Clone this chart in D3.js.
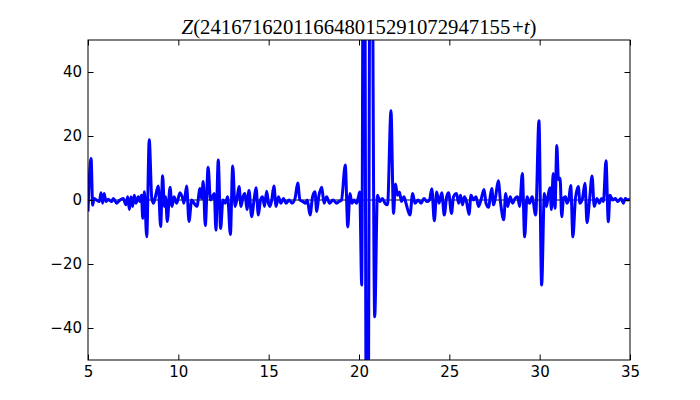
<!DOCTYPE html>
<html><head><meta charset="utf-8">
<script src="https://cdn.jsdelivr.net/npm/d3@7"></script>
<style>body{margin:0;background:#fff}</style>
</head><body>
<svg id="c" width="700" height="400"></svg>
<script>
const titleFunc = "Z";
const titleNumber = "241671620116648015291072947155";
const titleVar = "t";
const xDomain = [5, 35];
const yDomain = [-50, 50];
const xTicks = [5, 10, 15, 20, 25, 30, 35];
const yTicks = [-40, -20, 0, 20, 40];

const tValues = [
 5.00,5.17,5.26,5.33,5.47,5.63,5.72,5.81,5.89,6.00,6.12,6.31,6.40,6.59,6.77,6.95,
 7.10,7.20,7.29,7.38,7.47,7.56,7.66,7.78,7.88,7.96,8.03,8.12,8.25,8.39,8.53,8.63,
 8.71,8.89,9.02,9.13,9.23,9.29,9.39,9.54,9.65,9.76,9.91,10.09,10.24,10.31,10.46,10.59,
 10.74,10.87,11.03,11.20,11.28,11.38,11.49,11.65,11.78,11.89,11.99,12.08,12.21,12.34,12.47,12.60,
 12.73,12.88,13.01,13.14,13.25,13.36,13.47,13.58,13.69,13.80,13.91,14.06,14.19,14.30,14.43,14.55,
 14.66,14.77,14.89,14.99,15.07,15.17,15.29,15.41,15.54,15.68,15.82,15.96,16.13,16.29,16.46,16.61,
 16.73,16.90,17.04,17.14,17.29,17.43,17.56,17.66,17.77,17.94,18.06,18.21,18.37,18.56,18.77,18.89,
 19.03,19.24,19.38,19.50,19.61,19.72,19.86,19.97,20.04,20.15,20.27,20.45,20.66,20.87,21.02,21.16,
 21.30,21.44,21.58,21.77,21.91,22.02,22.13,22.24,22.35,22.49,22.60,22.82,22.97,23.10,23.27,23.43,
 23.60,23.76,23.90,24.03,24.17,24.30,24.43,24.58,24.72,24.85,24.96,25.12,25.23,25.40,25.51,25.62,
 25.73,25.84,25.95,26.09,26.20,26.34,26.48,26.61,26.75,26.92,27.03,27.18,27.25,27.35,27.45,27.56,
 27.71,27.84,28.01,28.12,28.23,28.37,28.50,28.64,28.78,28.89,29.04,29.17,29.30,29.44,29.58,29.78,
 29.96,30.11,30.26,30.38,30.46,30.57,30.65,30.75,30.85,30.95,31.04,31.13,31.22,31.32,31.43,31.51,
 31.62,31.72,31.84,31.98,32.14,32.23,32.37,32.51,32.62,32.76,32.90,33.02,33.17,33.30,33.43,33.53,
 33.67,33.80,33.89,34.04,34.19,34.32,34.50,34.63,34.74,34.87,35.00
];
const zValues = [
 -3.6,13.0,-1.6,0.5,0,-0.5,2.3,-1,2,-0.5,0.2,-0.5,0.5,-1,0,0.5,
 -1.5,1,-3,1,-2,1.5,-1,1,-0.5,1.5,-5.7,2.6,-11.5,18.8,0.5,-1,
 0.5,4.4,-8.3,7.6,-2,1,-6.7,4,-2,1,-1,2.3,0.5,-1,4.4,-6.7,
 0,-1,-2,3.6,0.5,5.8,-8,10.2,0,1,2,-9.4,12.5,-8.9,0,-1,
 1,-10.8,10.6,-2,0.5,4.2,-2,1,2,-3,3,-5.2,0,3.8,-4.7,0,
 1,-2,2.7,-1,-2,0,4.4,-2,1,-1,0.5,-1,0,-1,0.5,5.3,
 0,-0.5,-1,0,-4.7,1,2.6,-3.6,1,4,-1,1,-1,0,-1,-0.5,
 0,10.9,-8.4,2,-1,0,-1,1,2.5,-26.6,150,-150,150,-36.5,1.5,-0.5,
 0.5,-1,-1.5,27.9,-4.2,5,1.5,2.5,-0.5,1,-1,-4.7,2,-1,0,-1,
 0.5,-0.5,0,3.5,-6.5,2.5,-1,2.3,-4.7,1,2.3,-4.2,1,2,-1,1.5,
 -1.5,1,-0.5,-4.5,1.5,0,1,-2,0,3.3,-1,-2.3,0.5,3.6,-1.5,1,
 6,-1,-6.2,2,-2,1,-1,0.5,1,-2,8.3,-11.5,1,-1,1,-4.7,
 24.8,-26.6,2,-2,1,3.8,-3,8.3,-2.6,17,6.3,6.8,-5.2,0.5,1,-1,
 0.5,4.5,-11.5,0.5,4.2,-1,0.5,5.2,-7.1,0,7.5,-2,0.5,-1,0.5,-0.5,
 12.3,-6.8,1.5,0,0.5,-0.5,0.5,-1,0.5,0,0.3
];

const W = 700, H = 400;
const m = {left: 88, right: 70, top: 40, bottom: 40};
const svg = d3.select("#c");
const x = d3.scaleLinear().domain(xDomain).range([m.left, W - m.right]);
const y = d3.scaleLinear().domain(yDomain).range([H - m.bottom, m.top]);

svg.append("defs").append("clipPath").attr("id", "clip")
  .append("rect").attr("x", m.left).attr("y", m.top)
  .attr("width", W - m.left - m.right).attr("height", H - m.top - m.bottom);

const data = tValues.map((t, i) => ({t, z: zValues[i]}));

// zero line
svg.append("line").attr("x1", x(xDomain[0])).attr("x2", x(xDomain[1]))
  .attr("y1", y(0)).attr("y2", y(0)).attr("stroke", "#000").attr("stroke-width", 1);

svg.append("path").datum(data)
  .attr("clip-path", "url(#clip)")
  .attr("fill", "none").attr("stroke", "#0000ff").attr("stroke-width", 3)
  .attr("stroke-linejoin", "round")
  .attr("d", d3.line().curve(d3.curveMonotoneX).x(d => x(d.t)).y(d => y(d.z)));

const tickLen = 5.5;
const fmt = v => (v < 0 ? "\u2212" + Math.abs(v) : String(v));
const gB = svg.append("g").attr("transform", `translate(0,${H - m.bottom})`)
  .call(d3.axisBottom(x).tickValues(xTicks).tickSizeInner(-tickLen).tickSizeOuter(0).tickPadding(6).tickFormat(fmt));
const gT = svg.append("g").attr("transform", `translate(0,${m.top})`)
  .call(d3.axisTop(x).tickValues(xTicks).tickSizeInner(-tickLen).tickSizeOuter(0).tickFormat(""));
const gL = svg.append("g").attr("transform", `translate(${m.left},0)`)
  .call(d3.axisLeft(y).tickValues(yTicks).tickSizeInner(-tickLen).tickSizeOuter(0).tickPadding(6).tickFormat(fmt));
const gR = svg.append("g").attr("transform", `translate(${W - m.right},0)`)
  .call(d3.axisRight(y).tickValues(yTicks).tickSizeInner(-tickLen).tickSizeOuter(0).tickFormat(""));
[gB, gT, gL, gR].forEach(g => {
  g.attr("font-family", null).attr("font-size", null);
  g.select(".domain").remove();
  g.selectAll(".tick line").attr("stroke", "#000").attr("stroke-width", 1);
  g.selectAll("text").style("font-family", "'DejaVu Sans', sans-serif").style("font-size", "15px").attr("fill", "#000");
});

svg.append("rect").attr("x", m.left).attr("y", m.top)
  .attr("width", W - m.left - m.right).attr("height", H - m.top - m.bottom)
  .attr("fill", "none").attr("stroke", "#000").attr("stroke-width", 1);

// title
const title = svg.append("text").attr("x", (m.left + W - m.right) / 2).attr("y", 34)
  .attr("text-anchor", "middle").style("font-family", "'Liberation Serif', 'DejaVu Serif', serif")
  .style("font-size", "20px").attr("fill", "#000");
title.append("tspan").attr("font-style", "italic").text(titleFunc);
title.append("tspan").text("(" + titleNumber + "\u200a+");
title.append("tspan").attr("font-style", "italic").text(titleVar);
title.append("tspan").text(")");
const targetW = 355;
const w0 = title.node().getComputedTextLength();
title.style("font-size", (20 * targetW / w0) + "px");
</script>
</body></html>
